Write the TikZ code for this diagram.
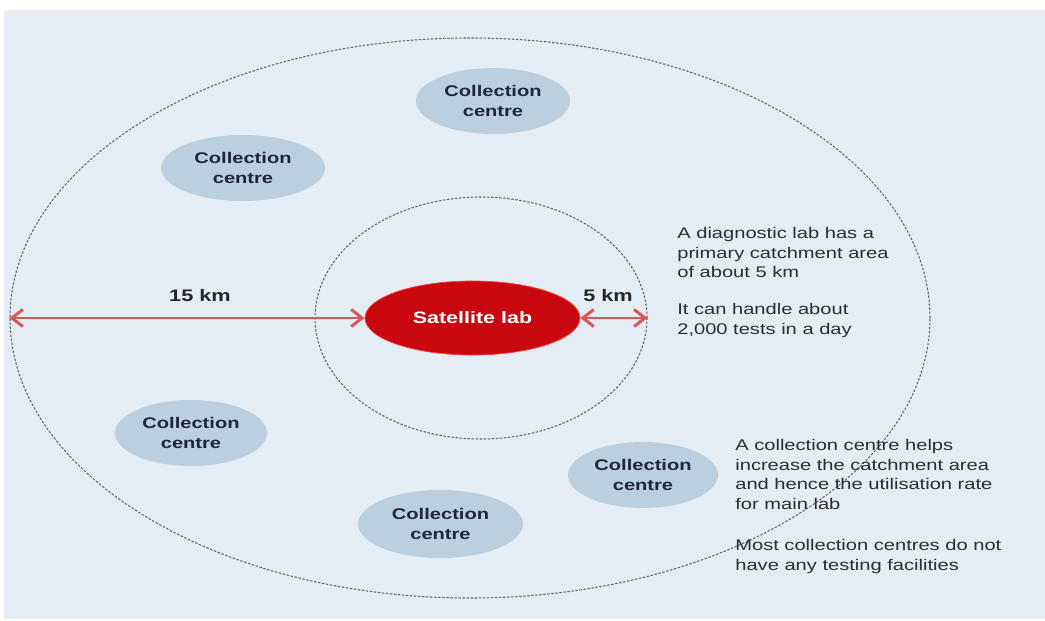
\documentclass[tikz,border=0pt]{standalone}
\usepackage{fontspec}
\setmainfont[FakeStretch=1.3]{Liberation Sans}
\usetikzlibrary{shapes.geometric, arrows.meta}

\definecolor{panelbg}{RGB}{228,236,244}
\definecolor{topband}{RGB}{232,235,239}
\definecolor{centrefill}{RGB}{186,208,225}
\definecolor{labred}{RGB}{200,8,14}
\definecolor{arrowred}{RGB}{214,88,88}
\definecolor{navytext}{RGB}{30,38,60}
\definecolor{notetext}{RGB}{45,45,45}

\begin{document}
\begin{tikzpicture}[>={Straight Barb[length=2.2mm,width=3.4mm]},
  ring/.style={ellipse, draw=black!60, line width=0.6pt, dash pattern=on 1.4pt off 0.9pt, inner sep=0},
  centre/.style={ellipse, fill=centrefill, inner sep=0, minimum height=1.32cm, align=center,
    text=navytext, font=\bfseries\fontsize{8.8}{11.4}\selectfont},
  dist/.style={<->, arrowred, line width=1.7pt},
  distlabel/.style={text=black!85, font=\bfseries\fontsize{9.5}{11}\selectfont},
  note/.style={anchor=north west, align=left, inner sep=0, text=notetext,
    font=\fontsize{8.8}{11.1}\selectfont}]
  % Background panel
  \useasboundingbox (0,0) rectangle (20.9,12.4);
  \fill[panelbg] (0.08,0.02) rectangle (20.9,12.2);
  \fill[topband] (0.08,12.06) rectangle (20.9,12.2);

  % Catchment rings
  \node[ring, minimum width=18.4cm, minimum height=11.2cm] (outer) at (9.4,6.04) {};
  \node[ring, minimum width=6.64cm, minimum height=4.84cm] (inner) at (9.62,6.04) {};

  % Satellite lab
  \node[ellipse, fill=labred, draw=red!75!white, minimum width=4.3cm, minimum height=1.48cm,
    inner sep=0, text=white, font=\bfseries\fontsize{9.4}{11}\selectfont] (lab) at (9.45,6.04) {Satellite lab};

  % Distance arrows
  \draw[dist] (outer.west) -- (lab.west);
  \draw[dist] (lab.east) -- (inner.east);
  \node[distlabel] (d15) at (4.0,6.48) {15 km};
  \node[distlabel] (d5) at (12.16,6.48) {5 km};

  % Collection centres
  \node[centre, minimum width=3.08cm] (cc1) at (9.86,10.38) {Collection\\centre};
  \node[centre, minimum width=3.28cm] (cc2) at (4.86,9.04) {Collection\\centre};
  \node[centre, minimum width=3.04cm] (cc3) at (3.82,3.74) {Collection\\centre};
  \node[centre, minimum width=3.0cm] (cc4) at (12.86,2.9) {Collection\\centre};
  \node[centre, minimum width=3.3cm, minimum height=1.36cm] (cc5) at (8.81,1.92) {Collection\\centre};

  % Notes
  \node[note] (labnote) at (13.54,7.86) {A diagnostic lab has a\\primary catchment area\\of about 5 km\\[10pt]It can handle about\\2,000 tests in a day};
  \node[note] (ccnote) at (14.7,3.62) {A collection centre helps\\increase the catchment area\\and hence the utilisation rate\\for main lab\\[12.5pt]Most collection centres do not\\have any testing facilities};
\end{tikzpicture}
\end{document}
